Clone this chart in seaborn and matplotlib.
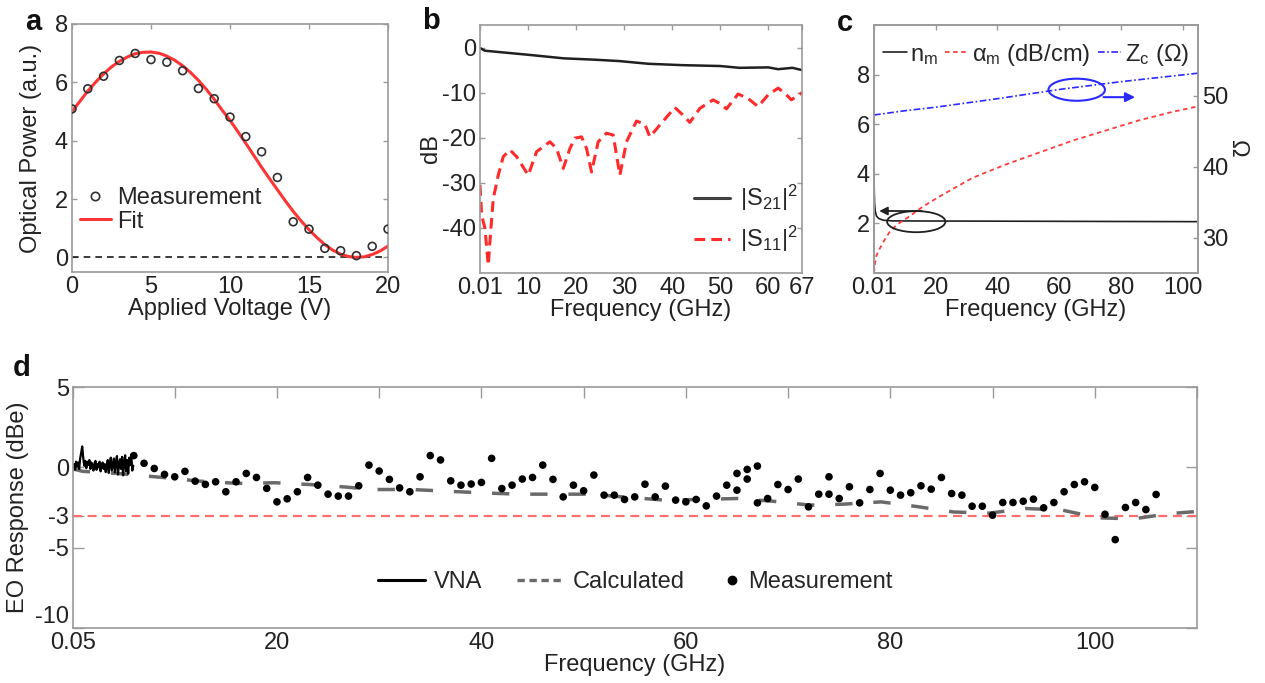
#! /usr/bin/env python3

import numpy as np
import matplotlib
matplotlib.use('Agg')
import matplotlib.pyplot as plt
from matplotlib.patches import Ellipse
from matplotlib.lines import Line2D
import seaborn as sns

# ---- panel a: MZM transfer curve
volt = np.arange(0, 21, 1)
power_meas = [5.09, 5.78, 6.21, 6.75, 6.99, 6.78, 6.69, 6.40, 5.79, 5.44, 4.81,
              4.14, 3.62, 2.74, 1.22, 0.97, 0.31, 0.23, 0.06, 0.38, 0.97]
fit_volt = np.arange(0, 20.5, 0.5)
power_fit = [5.0, 5.35, 5.70, 6.01, 6.29, 6.53, 6.72, 6.87, 6.98, 7.03, 7.04,
             7.0, 6.9, 6.76, 6.57, 6.34, 6.07, 5.76, 5.42, 5.05, 4.70, 4.31,
             3.91, 3.50, 3.09, 2.70, 2.32, 1.94, 1.58, 1.25, 0.95, 0.68, 0.44,
             0.25, 0.11, 0.03, 0.0, 0.02, 0.10, 0.22, 0.39]

# ---- panel b: S-parameters
s21_f = [0.01, 1, 5, 10, 17.5, 24, 29, 35, 42, 50, 54, 60, 62, 65, 67]
s21_db = [-0.1, -0.7, -1.1, -1.6, -2.4, -2.7, -3.0, -3.6, -3.9, -4.1, -4.5,
          -4.4, -4.8, -4.5, -5.0]
s11_f = [0.01, 0.35, 1.04, 1.73, 2.22, 2.77, 3.81, 4.85, 6.24, 7.62, 10.05,
         11.78, 14.55, 15.94, 17.33, 18.71, 19.75, 21.14, 22.18, 23.22, 24.6,
         26.33, 27.72, 29.11, 30.49, 32.57, 34.3, 35.34, 37.42, 40.54, 42.27,
         43.66, 45.74, 48.51, 49.9, 51.28, 53.71, 55.79, 57.87, 59.95, 62.03,
         63.41, 64.8, 67.0]
s11_db = [-30.5, -37.2, -40.1, -48.3, -40.9, -33.5, -28.3, -24.2, -22.7, -24.2,
          -28.3, -23.1, -20.9, -22.4, -26.8, -22.4, -20.1, -19.8, -22.4, -27.6,
          -20.9, -19.0, -19.4, -28.3, -20.9, -16.3, -17.0, -19.8, -17.2, -13.3,
          -15.0, -16.6, -13.5, -11.6, -12.4, -13.6, -10.3, -11.3, -13.1, -10.5,
          -9.0, -10.1, -11.6, -10.0]

# ---- panel c: microwave index, loss, impedance
nm_f = [0.01, 0.1, 0.2, 0.4, 0.8, 1.5, 3, 6, 105]
nm = [4.0, 3.3, 2.8, 2.5, 2.3, 2.2, 2.13, 2.1, 2.07]
am_f = [0.01, 0.3, 0.8, 1.8, 3.5, 5.1, 7.5, 10.5, 15.9, 21.3, 32, 42.8, 53.6,
        64.4, 75.2, 86, 96.8, 105]
am = [0.0, 0.35, 0.7, 0.97, 1.35, 1.66, 1.95, 2.2, 2.68, 3.09, 3.84, 4.38,
      4.86, 5.34, 5.75, 6.16, 6.5, 6.72]
zc_f = [0.01, 10, 20, 40, 60, 80, 105]
zc = [47.3, 47.9, 48.4, 49.6, 50.9, 52.0, 53.2]

# ---- panel d: EO response
vna_f = np.arange(0.05, 6.0, 0.1)
vna_db = [0.0, 0.2, -0.15, 0.35, 0.05, 0.3, -0.1, 0.55, 0.9, 1.3, 0.6, 0.1,
          0.4, -0.05, 0.35, 0.15, 0.45, -0.1, 0.3, 0.1, -0.2, 0.25, 0.4, -0.15,
          0.2, 0.0, 0.35, -0.25, 0.15, 0.3, -0.1, 0.2, -0.3, 0.05, 0.45, -0.35,
          0.25, 0.6, -0.2, 0.1, 0.55, -0.3, 0.35, 0.7, -0.45, 0.2, 0.5, -0.1,
          0.65, -0.5, 0.3, 0.75, -0.25, 0.45, -0.4, 0.6, 0.15, 0.8, -0.2, 0.1]
calc_f = [0.05, 1, 4.4, 8.8, 12.4, 16.2, 19.8, 23.2, 26.8, 29.4, 33.1, 36.5,
          40.1, 43.6, 47.2, 50.7, 54.2, 57.9, 61.4, 65.0, 68.5, 72.1, 75.5,
          79.1, 82.7, 86.2, 89.7, 93.2, 96.8, 100.3, 103.8, 107.3, 110]
calc_db = [-0.1, -0.25, -0.38, -0.63, -0.86, -1.0, -0.96, -1.07, -1.23, -1.38,
           -1.38, -1.48, -1.59, -1.67, -1.67, -1.67, -1.86, -2.04, -2.0, -1.94,
           -2.11, -2.35, -2.29, -2.15, -2.45, -2.78, -2.85, -2.56, -2.66, -3.14,
           -3.21, -2.88, -2.75]
meas_f = [6, 7, 8, 9, 10, 11, 12, 13, 14, 15, 16, 17, 18, 19, 20, 21, 22, 23,
          24, 25, 26, 27, 28, 29, 30, 31, 32, 33, 34, 35, 36, 37, 38, 39, 40,
          41, 42, 43, 44, 45, 46, 47, 48, 49, 50, 51, 52, 53, 54, 55, 56, 57,
          58, 59, 60, 61, 62, 63, 64, 65, 65, 66, 66, 67, 67, 68, 69, 70, 71,
          72, 73, 74, 74, 75, 76, 77, 78, 79, 80, 81, 82, 83, 84, 85, 86, 87,
          88, 89, 90, 91, 92, 93, 94, 95, 96, 97, 98, 99, 100, 101, 102, 103,
          104, 105, 106]
meas_db = [0.73, 0.25, -0.07, -0.44, -0.59, -0.25, -0.86, -1.06, -0.90, -1.52,
           -0.90, -0.38, -0.63, -1.31, -2.15, -1.96, -1.52, -0.63, -1.11, -1.67,
           -1.79, -1.79, -1.15, 0.14, -0.23, -0.75, -1.28, -1.52, -0.59, 0.73,
           0.46, -0.84, -1.11, -1.04, -0.94, 0.56, -1.32, -1.11, -0.73, -0.63,
           0.14, -0.75, -1.84, -1.11, -1.46, -0.48, -1.73, -1.73, -2.0, -1.84,
           -1.05, -1.84, -1.17, -2.04, -2.15, -2.0, -2.4, -1.79, -1.11, -0.38,
           -1.42, -0.13, -0.73, 0.08, -2.21, -1.94, -1.07, -1.38, -0.73, -2.46,
           -1.67, -0.59, -1.67, -1.94, -1.21, -2.21, -1.38, -0.38, -1.42, -1.73,
           -1.58, -1.15, -1.36, -0.63, -1.63, -1.73, -2.42, -2.42, -2.98, -2.19,
           -2.19, -2.11, -1.98, -2.52, -2.19, -1.52, -1.07, -0.9, -1.25, -2.92,
           -4.5, -2.5, -2.19, -2.63, -1.69]

FS = 17
SPINE = '#9a9a9a'
TXT = '#222222'
W, H = 1265, 683


def style_axis(ax, tick_len=3.5, top=True, right=True, left=True):
    ax.tick_params(direction='in', length=tick_len, width=1, color=SPINE,
                   labelcolor=TXT, labelsize=FS, top=top, right=right,
                   left=left, pad=3)
    for sp in ax.spines.values():
        sp.set_color(SPINE)
        sp.set_linewidth(1.2)
        sp.set_visible(True)


def panel_a(fig):
    ax = fig.add_axes([72 / W, 1 - 272 / H, 316 / W, 248 / H])
    ax.axhline(0, color='k', ls=(0, (4, 3)), lw=1.2)
    sns.lineplot(x=fit_volt, y=power_fit, ax=ax, color='#ff3535', lw=2.2)
    sns.scatterplot(x=volt, y=power_meas, ax=ax, marker='o', s=32,
                    facecolor='none', edgecolor='#303030', linewidth=1.2,
                    zorder=3)
    ax.set_xlim(0, 20)
    ax.set_ylim(-0.5, 8)
    ax.set_xticks([0, 5, 10, 15, 20])
    ax.set_yticks([0, 2, 4, 6, 8])
    ax.set_xlabel('Applied Voltage (V)', fontsize=FS, color=TXT, labelpad=0)
    ax.set_ylabel('Optical Power (a.u.)', fontsize=FS, color=TXT, labelpad=9)
    style_axis(ax)
    handles = [Line2D([], [], ls='none', marker='o', mfc='none', mec='#303030',
                      ms=6, mew=1.2),
               Line2D([], [], color='#ff3535', lw=2.2)]
    ax.legend(handles, ['Measurement', 'Fit'], loc='center left',
              bbox_to_anchor=(-0.02, 0.25), frameon=False, fontsize=FS,
              handlelength=1.3, handletextpad=0.3, labelspacing=0.05,
              borderaxespad=0.2)


def panel_b(fig):
    ax = fig.add_axes([480 / W, 1 - 273 / H, 322 / W, 248 / H])
    sns.lineplot(x=s21_f, y=s21_db, ax=ax, color='#202020', lw=1.8)
    sns.lineplot(x=s11_f, y=s11_db, ax=ax, color='#ff2a2a', lw=2.2,
                 linestyle=(0, (3.5, 2)))
    ax.set_xlim(0.01, 67)
    ax.set_ylim(-50, 5)
    ax.set_xticks([0.01, 10, 20, 30, 40, 50, 60, 67])
    ax.set_xticklabels(['0.01', '10', '20', '30', '40', '50', '60', '67'])
    ax.set_yticks([0, -10, -20, -30, -40])
    ax.set_xlabel('Frequency (GHz)', fontsize=FS, color=TXT, labelpad=0)
    ax.set_ylabel('dB', fontsize=FS, color=TXT, labelpad=0)
    style_axis(ax)
    handles = [Line2D([], [], color='#404040', lw=2.2),
               Line2D([], [], color='#ff2a2a', lw=2.2, ls=(0, (3.5, 2)))]
    ax.legend(handles, [r'|S$_{21}$|$^2$', r'|S$_{11}$|$^2$'],
              loc='center left', bbox_to_anchor=(0.6, 0.22), frameon=False,
              fontsize=FS, handlelength=1.5, handletextpad=0.45,
              labelspacing=0.45)


def panel_c(fig):
    ax = fig.add_axes([874 / W, 1 - 273 / H, 324 / W, 248 / H])
    ax2 = ax.twinx()
    sns.lineplot(x=nm_f, y=nm, ax=ax, color='#202020', lw=1.2)
    sns.lineplot(x=am_f, y=am, ax=ax, color='#ff3b3b', lw=1.3,
                 linestyle=(0, (2.5, 2)))
    sns.lineplot(x=zc_f, y=zc, ax=ax2, color='#2a2aff', lw=1.2,
                 linestyle=(0, (4, 1.5, 1, 1.5)))
    ax.set_xlim(0.01, 105)
    ax.set_ylim(0, 10)
    ax2.set_ylim(25, 60)
    ax.set_xticks([0.01, 20, 40, 60, 80, 100])
    ax.set_xticklabels(['0.01', '20', '40', '60', '80', '100'])
    ax.set_yticks([2, 4, 6, 8])
    ax2.set_yticks([30, 40, 50])
    ax.set_xlabel('Frequency (GHz)', fontsize=FS, color=TXT, labelpad=0)
    ax.set_ylabel('')
    ax2.set_ylabel('Ω', fontsize=FS, color=TXT, rotation=270, labelpad=14)
    style_axis(ax, right=False)
    style_axis(ax2, top=False, left=False)
    ax2.tick_params(labelleft=False, labelright=True)

    # annotations: ellipses with arrows pointing to the matching axis
    ax.add_patch(Ellipse((65.7, 7.39), 18.3, 0.89, fill=False,
                         ec='#2a2aff', lw=1.5, zorder=5))
    ax.annotate('', xy=(85.5, 7.09), xytext=(73.5, 7.09),
                arrowprops=dict(arrowstyle='-|>', color='#2a2aff', lw=1.5,
                                mutation_scale=14))
    ax.add_patch(Ellipse((13.7, 2.07), 18.9, 0.85, fill=False,
                         ec='#202020', lw=1.3, zorder=5))
    ax.annotate('', xy=(0.8, 2.5), xytext=(16.4, 2.5),
                arrowprops=dict(arrowstyle='-|>', color='#202020', lw=1.3,
                                mutation_scale=12))

    handles = [Line2D([], [], color='#202020', lw=1.2),
               Line2D([], [], color='#ff3b3b', lw=1.3, ls=(0, (2.5, 2))),
               Line2D([], [], color='#2a2aff', lw=1.2,
                      ls=(0, (4, 1.5, 1, 1.5)))]
    labels = [r'n$_\mathrm{m}$', r'α$_\mathrm{m}$ (dB/cm)',
              r'Z$_\mathrm{c}$ (Ω)']
    ax2.legend(handles, labels, loc='center', bbox_to_anchor=(0.5, 0.88),
               ncol=3, frameon=False, fontsize=FS, handlelength=1.0,
               handletextpad=0.15, columnspacing=0.3, borderaxespad=0)


def panel_d(fig):
    ax = fig.add_axes([73 / W, 1 - 628 / H, 1124 / W, 241 / H])
    ax.axhline(-3, color='#ff6e6e', lw=1.6, ls=(0, (4, 2.6)))
    sns.lineplot(x=calc_f, y=calc_db, ax=ax, color='#6a6a6a', lw=2.5,
                 linestyle=(0, (5, 6)))
    sns.lineplot(x=vna_f, y=vna_db, ax=ax, color='#000000', lw=1.6)
    sns.scatterplot(x=meas_f, y=meas_db, ax=ax, color='#000000', s=30,
                    edgecolor='none', zorder=4)
    ax.set_xlim(0.05, 110)
    ax.set_ylim(-10, 5)
    ax.set_xticks([0.05, 10, 20, 30, 40, 50, 60, 70, 80, 90, 100, 110])
    ax.set_xticklabels(['0.05', '', '20', '', '40', '', '60', '', '80', '',
                        '100', ''])
    ax.set_yticks([5, 0, -3, -5, -10])
    ax.set_yticklabels(['5', '0', '-3', '-5', '-10'])
    ax.set_xlabel('Frequency (GHz)', fontsize=FS, color=TXT, labelpad=0)
    ax.set_ylabel('EO Response (dBe)', fontsize=FS, color=TXT, labelpad=4)
    style_axis(ax, tick_len=8)
    # the bottom label sits above its tick, clear of the 0.05 label
    ax.get_yticklabels()[-1].set_va('bottom')

    # two legends so the marker entry can have a short handle
    lines = [Line2D([], [], color='#000000', lw=2.2),
             Line2D([], [], color='#6a6a6a', lw=2.4, ls=(0, (2.2, 1.4)))]
    leg1 = ax.legend(lines, ['VNA', 'Calculated'], loc='center left',
                     bbox_to_anchor=(378 / W, 1 - 582 / H),
                     bbox_transform=fig.transFigure, ncol=2, frameon=False,
                     fontsize=FS, handlelength=2.0, handletextpad=0.35,
                     columnspacing=1.5, borderpad=0, borderaxespad=0)
    ax.add_artist(leg1)
    dot = [Line2D([], [], ls='none', marker='o', color='#000000', ms=6)]
    ax.legend(dot, ['Measurement'], loc='center left',
              bbox_to_anchor=(725 / W, 1 - 582 / H),
              bbox_transform=fig.transFigure, frameon=False, fontsize=FS,
              handlelength=0.6, handletextpad=0.4, borderpad=0,
              borderaxespad=0)


def main():
    sns.set_theme(style='white')
    plt.rcParams['font.family'] = ['Liberation Sans', 'DejaVu Sans']
    plt.rcParams['mathtext.fontset'] = 'custom'
    plt.rcParams['mathtext.rm'] = 'Liberation Sans'
    plt.rcParams['mathtext.it'] = 'Liberation Sans:italic'
    plt.rcParams['axes.unicode_minus'] = False

    fig = plt.figure(figsize=(12.65, 6.83), dpi=100)
    panel_a(fig)
    panel_b(fig)
    panel_c(fig)
    panel_d(fig)

    for letter, (px, py) in {'a': (33, 22), 'b': (431, 21), 'c': (845, 23),
                             'd': (22, 368)}.items():
        fig.text(px / W, 1 - py / H, letter, ha='center', va='center',
                 fontsize=21, fontweight='bold', color='#111111')

    print("# Saving to out.png")
    fig.savefig('out.png', dpi=100)


if __name__ == "__main__":
    main()
